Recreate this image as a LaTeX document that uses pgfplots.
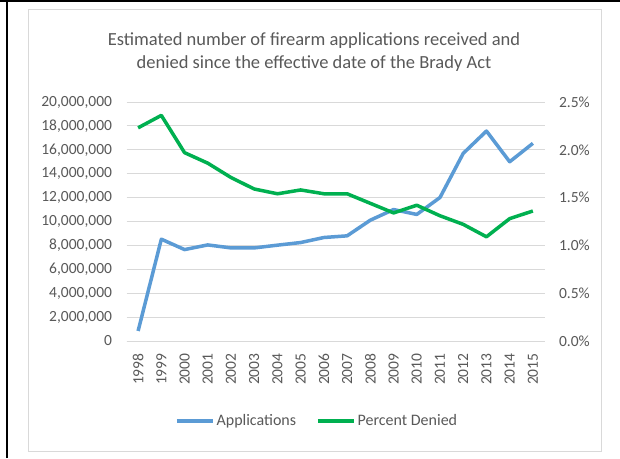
\documentclass[border=0pt]{standalone}
\usepackage{pgfplots}
\pgfplotsset{compat=1.18}
\usepackage{fontspec}
\setmainfont{Carlito}
\definecolor{appblue}{HTML}{5B9BD5}
\definecolor{dengreen}{HTML}{00B050}
\definecolor{gridgray}{HTML}{D9D9D9}
\definecolor{labgray}{HTML}{595959}
\begin{document}
\begin{tikzpicture}[x=1pt,y=1pt]
\useasboundingbox (0,0) rectangle (620,458);
\fill[white] (0,0) rectangle (620,458);
% outer frame
\draw[black, line width=2pt] (0,457) -- (620,457);
\draw[black, line width=2pt] (7,0) -- (7,458);
% chart area border
\draw[gridgray, line width=1pt] (28,7) rectangle (601,448);
% title
\node[anchor=base, text=labgray, font=\fontsize{18.5}{23}\selectfont, inner sep=0pt] at (314,412) {Estimated number of firearm applications received and};
\node[anchor=base, text=labgray, font=\fontsize{18.5}{23}\selectfont, inner sep=0pt] at (314,389) {denied since the effective date of the Brady Act};
\begin{axis}[
  at={(126.5pt,117pt)}, anchor=south west,
  scale only axis, width=418pt, height=239pt,
  xmin=1997.5, xmax=2015.5,
  ymin=0, ymax=20000000,
  ytick={0,2000000,...,20000000},
  xtick={1998,...,2015},
  axis y line*=left, axis x line*=bottom,
  axis line style={draw=none},
  x axis line style={draw=gridgray},
  major tick length=0pt,
  ymajorgrids, grid style={gridgray, line width=0.8pt},
  scaled y ticks=false,
  /pgf/number format/assume math mode=true,
  yticklabel style={/pgf/number format/.cd, fixed, 1000 sep={,}},
  xticklabel style={/pgf/number format/1000 sep={}, rotate=90, anchor=east},
  tick label style={text=labgray, font=\fontsize{15.5}{15.5}\selectfont},
  xticklabel shift=9pt,
  yticklabel shift=11pt,
  legend style={at={(0.456,-0.335)}, anchor=center, draw=none, fill=none, legend columns=2,
    font=\fontsize{16}{16}\selectfont, text=labgray, inner sep=0pt,
    nodes={inner xsep=2pt},
    /tikz/every even column/.append style={column sep=18pt}},
  legend cell align=left,
  legend image code/.code={\draw[#1, line width=3.5pt] (0pt,0pt) -- (36pt,0pt);},
]
\addplot[appblue, line width=3.5pt, line join=round] coordinates {
(1998,840000) (1999,8520000) (2000,7650000) (2001,8040000) (2002,7790000)
(2003,7790000) (2004,8020000) (2005,8240000) (2006,8660000) (2007,8800000)
(2008,10110000) (2009,11000000) (2010,10590000) (2011,12010000) (2012,15700000)
(2013,17570000) (2014,15000000) (2015,16540000)};
\addlegendentry{Applications}
\addlegendimage{dengreen, line width=3.5pt}
\addlegendentry{Percent Denied}
\end{axis}
\begin{axis}[
  at={(126.5pt,117pt)}, anchor=south west,
  scale only axis, width=418pt, height=239pt,
  xmin=1997.5, xmax=2015.5,
  ymin=0, ymax=2.5,
  ytick={0,0.5,...,2.5},
  axis y line*=right, axis x line=none,
  axis line style={draw=none},
  major tick length=0pt,
  /pgf/number format/assume math mode=true,
  yticklabel={\pgfmathprintnumber[fixed,fixed zerofill,precision=1]{\tick}\%},
  tick label style={text=labgray, font=\fontsize{15.5}{15.5}\selectfont},
  yticklabel shift=11pt,
]
\addplot[dengreen, line width=3.5pt, line join=round] coordinates {
(1998,2.23) (1999,2.36) (2000,1.97) (2001,1.86) (2002,1.71) (2003,1.59)
(2004,1.54) (2005,1.58) (2006,1.54) (2007,1.54) (2008,1.44) (2009,1.34)
(2010,1.42) (2011,1.31) (2012,1.22) (2013,1.09) (2014,1.28) (2015,1.36)};
\end{axis}
\end{tikzpicture}
\end{document}
